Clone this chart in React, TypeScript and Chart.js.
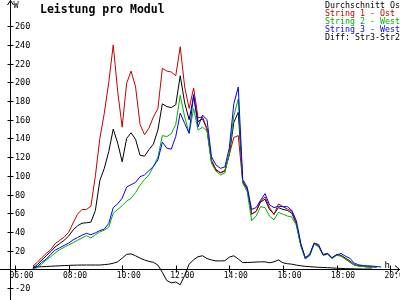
import React, { useEffect, useRef } from "react";
import { Chart, registerables } from "chart.js";

Chart.register(...registerables);

const title = "Leistung pro Modul";
const yUnit = "W";
const xUnit = "h";

const times = [
  "06:40", "06:50", "07:00", "07:10", "07:20", "07:30", "07:40", "07:50",
  "08:00", "08:10", "08:20", "08:30", "08:40", "08:50", "09:00", "09:10",
  "09:20", "09:30", "09:40", "09:50", "10:00", "10:10", "10:20", "10:30",
  "10:40", "10:50", "11:00", "11:10", "11:20", "11:30", "11:40", "11:50",
  "12:00", "12:10", "12:20", "12:30", "12:40", "12:50", "13:00", "13:10",
  "13:20", "13:30", "13:40", "13:50", "14:00", "14:10", "14:20", "14:30",
  "14:40", "14:50", "15:00", "15:10", "15:20", "15:30", "15:40", "15:50",
  "16:00", "16:10", "16:20", "16:30", "16:40", "16:50", "17:00", "17:10",
  "17:20", "17:30", "17:40", "17:50", "18:00", "18:10", "18:20", "18:30",
  "18:40", "18:50", "19:00", "19:10", "19:20", "19:30", "19:40",
];

const durchschnittOst = [
  1.5, 5, 10, 14.5, 19, 24, 27.5, 31,
  35.5, 42, 46.5, 49.3, 49.8, 50.5, 63, 95,
  108, 126, 150, 135, 115, 140, 146, 139,
  122, 121, 128, 134, 149, 177, 174, 173,
  176, 207, 178, 160, 185, 158, 161, 150,
  115, 106, 103.5, 105.5, 123, 157, 168, 94,
  86, 59, 62, 72, 75, 64, 59, 66,
  64, 63, 60, 49, 26, 12, 15, 28,
  25, 15.5, 16.5, 12, 15.5, 15, 12, 9,
  5, 3.8, 3.2, 2.8, 2.5, null, null,
];

const string1Ost = [
  3.5, 7.5, 12.5, 17, 21, 27.5, 31, 34.5,
  39.5, 49.5, 59, 64, 64, 67.5, 100, 140,
  167, 200, 240, 190, 152, 199, 212, 195,
  155, 144, 151, 163, 172, 215, 212, 211,
  207, 238, 195, 172, 194, 162, 163, 150,
  117, 107, 103, 105, 123, 141, 143, 93,
  86, 59, 62, 73, 77.5, 66, 58.5, 70,
  67, 64.5, 62, 49, 26, 12.5, 15, 28,
  25, 16, 17, 12, 16, 14.5, 11, 7.5,
  4.5, 3.5, 3, 2.5, 2.5, 2, null,
];

const string2West = [
  0.5, 1.8, 5.5, 10, 13.5, 17.5, 21, 23.5,
  26, 28.5, 31, 33.5, 36, 33.5, 37, 40,
  42, 45, 60, 64, 68, 73, 76, 82,
  90, 96, 101, 110, 120, 143, 142, 145,
  155, 186, 163, 145.5, 172, 149, 152, 148,
  113.4, 105, 101, 103, 125, 164, 182, 92,
  83, 52, 57, 67, 66, 57, 53, 61,
  59, 57, 56, 47, 25, 11, 14.5, 27,
  24, 15, 16, 11.5, 15, 14, 11, 8,
  4.5, 3.5, 3, 2.5, 2.5, 2, null,
];

const string3West = [
  1, 3, 7.5, 11, 16, 20.6, 23, 25.5,
  28, 31.5, 34, 36.5, 38.5, 37, 39, 41.5,
  43, 49, 66, 70, 76, 88, 90.5, 93,
  99, 101, 105.5, 110, 117, 136, 129.5, 128.5,
  142, 167, 156, 145.5, 187, 152.5, 165, 160,
  120.4, 111.6, 108, 109.5, 130, 177, 195, 96,
  88, 64, 66, 74, 81, 69, 66, 67.5,
  67, 67, 63, 52, 28, 12, 16.5, 28,
  26.5, 15.3, 17, 12.5, 15.3, 17, 14, 11.8,
  6.5, 4.8, 4, 3.8, 3.5, 3, 2.5,
];

const diffStr3Str2 = [
  2.5, 2.6, 2.8, 3, 3.3, 3.5, 3.8, 4,
  4.2, 4.4, 4.5, 4.6, 4.6, 4.6, 4.6, 4.6,
  5, 5.5, 6.5, 8, 12, 16, 16.5, 14.5,
  12, 10, 8.5, 7.5, 4.5, -3.3, -12, -14.5,
  -13.5, -16.5, -6.5, 5.5, 10.3, 13.5, 14.5, 11.5,
  10, 9, 9, 9.2, 13, 14.5, 11, 7.2,
  7.3, 7.5, 7.8, 8, 8, 7, 8, 10,
  7, 6, 5.5, 4.5, 3.8, 3.2, 2.8, 2.5,
  2.2, 2, 1.8, 1.5, 1.2, 1, 0.8, 0.6,
  0.5, 0.4, 0.3, 0.3, 0.3, null, null,
];

const seriesLabels = [
  "Durchschnitt Ost",
  "String 1 - Ost",
  "String 2 - West",
  "String 3 - West",
  "Diff: Str3-Str2",
];
const seriesColors = ["#000000", "#c00000", "#00b000", "#0000ff", "#000000"];

const yTickValues = [-20, 20, 40, 60, 80, 100, 120, 140, 160, 180, 200, 220, 240, 260];
const xTickLabels = ["06:00", "08:00", "10:00", "12:00", "14:00", "16:00", "18:00", "20:00"];

const X_MIN = 5.44;
const X_MAX = 20.37;
const Y_MIN = -32.8;
const Y_MAX = 288;

const toHours = (t: string) => {
  const [h, m] = t.split(":").map(Number);
  return h + m / 60;
};

const MONO = '"DejaVu Sans Mono", "Liberation Mono", monospace';

const axesPlugin = {
  id: "customAxes",
  beforeDatasetsDraw(chart: any) {
    const ctx = chart.ctx as CanvasRenderingContext2D;
    const xs = chart.scales.x;
    const ys = chart.scales.y;
    const W = chart.width;
    const H = chart.height;
    const axisX = Math.round(xs.getPixelForValue(X_MIN + 10 / 26.8)) + 0.5;
    const axisY = Math.round(ys.getPixelForValue(0)) + 0.5;
    ctx.save();
    ctx.strokeStyle = "#000";
    ctx.fillStyle = "#000";
    ctx.lineWidth = 1;
    // y axis
    ctx.beginPath();
    ctx.moveTo(axisX, 0);
    ctx.lineTo(axisX, H);
    ctx.moveTo(axisX, 0.5);
    ctx.lineTo(axisX - 3, 5);
    ctx.moveTo(axisX, 0.5);
    ctx.lineTo(axisX + 3, 5);
    // x axis
    ctx.moveTo(0, axisY);
    ctx.lineTo(W, axisY);
    ctx.moveTo(W - 0.5, axisY);
    ctx.lineTo(W - 5, axisY - 4);
    ctx.moveTo(W - 0.5, axisY);
    ctx.lineTo(W - 5, axisY + 4);
    ctx.stroke();

    // y ticks
    ctx.font = `8.5px ${MONO}`;
    ctx.textAlign = "left";
    ctx.textBaseline = "middle";
    ctx.beginPath();
    yTickValues.forEach((v) => {
      const py = Math.round(ys.getPixelForValue(v)) + 0.5;
      ctx.moveTo(axisX - 3, py);
      ctx.lineTo(axisX + 3, py);
    });
    ctx.stroke();
    yTickValues.forEach((v) => {
      const py = Math.round(ys.getPixelForValue(v)) + 0.5;
      ctx.fillText(String(v), axisX + 4.5, py + 0.5);
    });

    // x ticks
    ctx.font = `8px ${MONO}`;
    ctx.textAlign = "center";
    ctx.textBaseline = "middle";
    ctx.beginPath();
    xTickLabels.forEach((lab) => {
      const px = Math.round(xs.getPixelForValue(toHours(lab))) + 0.5;
      ctx.moveTo(px, axisY - 4);
      ctx.lineTo(px, axisY + 3);
    });
    ctx.stroke();
    xTickLabels.forEach((lab) => {
      const px = xs.getPixelForValue(toHours(lab));
      ctx.fillText(lab, px + 6.5, axisY + 6.5);
    });

    // unit labels
    ctx.font = `8.5px ${MONO}`;
    ctx.textAlign = "left";
    ctx.textBaseline = "alphabetic";
    ctx.fillText(yUnit, axisX + 3, 8);
    ctx.font = `9px ${MONO}`;
    ctx.fillText(xUnit, 384.5, 269.5 - 2);
    ctx.restore();
  },
  afterDraw(chart: any) {
    const ctx = chart.ctx as CanvasRenderingContext2D;
    ctx.save();
    ctx.font = `bold 11.5px ${MONO}`;
    ctx.textAlign = "left";
    ctx.textBaseline = "alphabetic";
    ctx.fillStyle = "#000";
    ctx.fillText(title, 40, 12.5);

    ctx.font = `8.3px ${MONO}`;
    seriesLabels.forEach((lab, i) => {
      ctx.fillStyle = seriesColors[i];
      ctx.fillText(lab, 325, 7.5 + i * 8);
    });
    ctx.restore();
  },
};

const seriesData = [durchschnittOst, string1Ost, string2West, string3West, diffStr3Str2];
const seriesOrder = [4, 3, 2, 1, 5];

export default function App() {
  const ref = useRef<HTMLCanvasElement | null>(null);

  useEffect(() => {
    if (!ref.current) return;
    const datasets = seriesData.map((arr, i) => ({
      label: seriesLabels[i],
      data: times.map((t, j) => ({ x: toHours(t), y: arr[j] })),
      borderColor: seriesColors[i],
      backgroundColor: seriesColors[i],
      borderWidth: 1,
      pointRadius: 0,
      tension: 0,
      fill: false,
      order: seriesOrder[i],
    }));
    const chart = new Chart(ref.current, {
      type: "line",
      data: { datasets },
      options: {
        responsive: false,
        devicePixelRatio: 1,
        animation: false,
        layout: { padding: 0 },
        plugins: {
          legend: { display: false },
          tooltip: { enabled: false },
          title: { display: false },
        },
        scales: {
          x: { type: "linear", min: X_MIN, max: X_MAX, display: false },
          y: { type: "linear", min: Y_MIN, max: Y_MAX, display: false },
        },
      },
      plugins: [axesPlugin],
    } as any);
    return () => chart.destroy();
  }, []);

  return (
    <div style={{ position: "absolute", left: 0, top: 0, width: 400, height: 300, background: "#fff" }}>
      <canvas ref={ref} width={400} height={300} style={{ display: "block" }} />
    </div>
  );
}
